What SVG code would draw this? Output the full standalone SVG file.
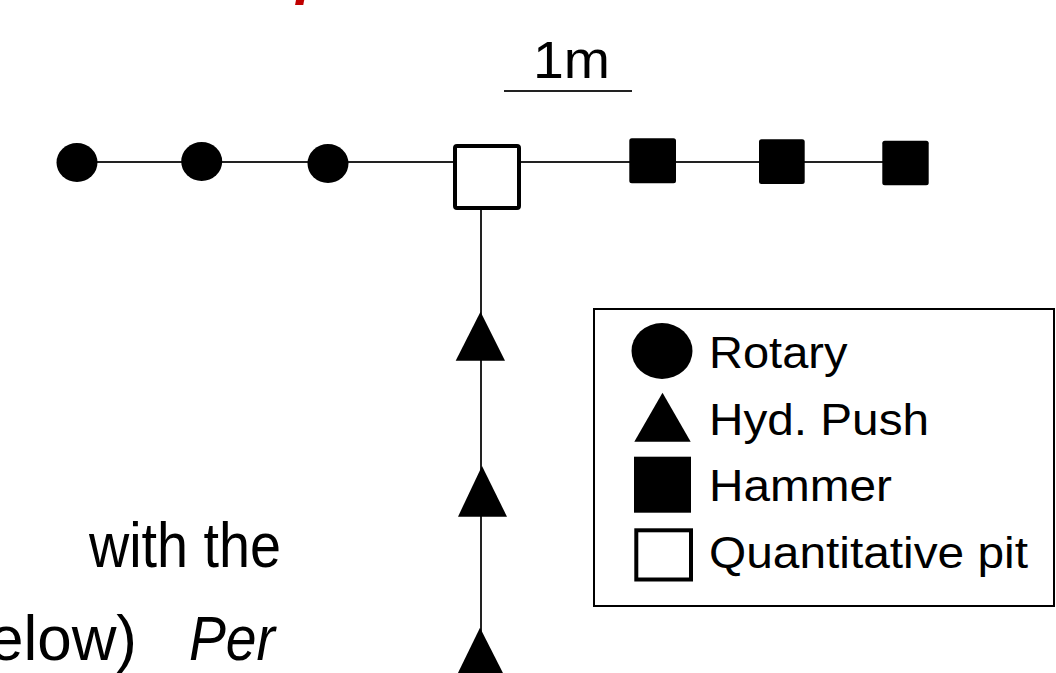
<svg xmlns="http://www.w3.org/2000/svg" width="1056" height="673" viewBox="0 0 1056 673">
<style>
.ln{stroke:#222;stroke-width:2;fill:none}
.fill{fill:#000}
.pit{fill:#fff;stroke:#000;stroke-width:4}
.t{font-family:"Liberation Sans",Arial,sans-serif;fill:#000}
.leg{font-size:44px}
.big{font-size:63px}
</style>
<rect width="1056" height="673" fill="#fff"/>
<text x="294" y="5" font-family="Liberation Sans, Arial, sans-serif" font-weight="bold" font-style="italic" font-size="60" fill="#c00000">l</text>
<g id="connectors">
<line class="ln" x1="77" y1="162" x2="905" y2="162"/>
<line class="ln" x1="481" y1="208" x2="481" y2="673"/>
<line class="ln" x1="504" y1="91" x2="632" y2="91"/>
</g>
<g id="scale-label"><text class="t" x="533" y="78" font-size="51" textLength="77" lengthAdjust="spacingAndGlyphs">1m</text></g>
<g id="rotary1"><ellipse class="fill" cx="77" cy="162.5" rx="20.5" ry="19.5"/></g>
<g id="rotary2"><ellipse class="fill" cx="201.7" cy="161.5" rx="20.5" ry="19.5"/></g>
<g id="rotary3"><ellipse class="fill" cx="328" cy="163.5" rx="20.5" ry="19.5"/></g>
<g id="pit"><rect class="pit" x="455" y="146" width="64" height="62" rx="2"/></g>
<g id="hammer1"><rect class="fill" x="629.3" y="138.3" width="46.7" height="45" rx="2.5"/></g>
<g id="hammer2"><rect class="fill" x="759" y="139.3" width="45.7" height="44.7" rx="2.5"/></g>
<g id="hammer3"><rect class="fill" x="882.3" y="140.7" width="46.4" height="44.6" rx="2.5"/></g>
<g id="push1"><polygon class="fill" points="480.5,311.7 505,360.7 455.7,360.7"/></g>
<g id="push2"><polygon class="fill" points="482,466 507,516.7 458,516.7"/></g>
<g id="push3"><polygon class="fill" points="480,627.7 505,677 456,677"/></g>
<g id="legend">
<rect x="594" y="309" width="460" height="297" fill="#fff" stroke="#000" stroke-width="2"/>
<ellipse class="fill" cx="662" cy="351" rx="30.5" ry="28"/>
<polygon class="fill" points="662.5,392.7 690.7,441.7 634.3,441.7"/>
<rect class="fill" x="634" y="456.7" width="57" height="56"/>
<rect class="pit" x="636.3" y="530.3" width="54.7" height="49.2" stroke-width="4.6"/>
<text class="t leg" x="709" y="368.3" textLength="138.5" lengthAdjust="spacingAndGlyphs">Rotary</text>
<text class="t leg" x="709" y="434.5" textLength="220" lengthAdjust="spacingAndGlyphs">Hyd. Push</text>
<text class="t leg" x="709" y="501" textLength="183" lengthAdjust="spacingAndGlyphs">Hammer</text>
<text class="t leg" x="709" y="567.5" textLength="319" lengthAdjust="spacingAndGlyphs">Quantitative pit</text>
</g>
<g id="body-text">
<text class="t big" x="89" y="567" textLength="192" lengthAdjust="spacingAndGlyphs">with the</text>
<text class="t big" x="-11" y="660" textLength="148" lengthAdjust="spacingAndGlyphs">elow)</text>
<text class="t big" x="189" y="660" font-style="italic" textLength="86" lengthAdjust="spacingAndGlyphs">Per</text>
</g>
</svg>
